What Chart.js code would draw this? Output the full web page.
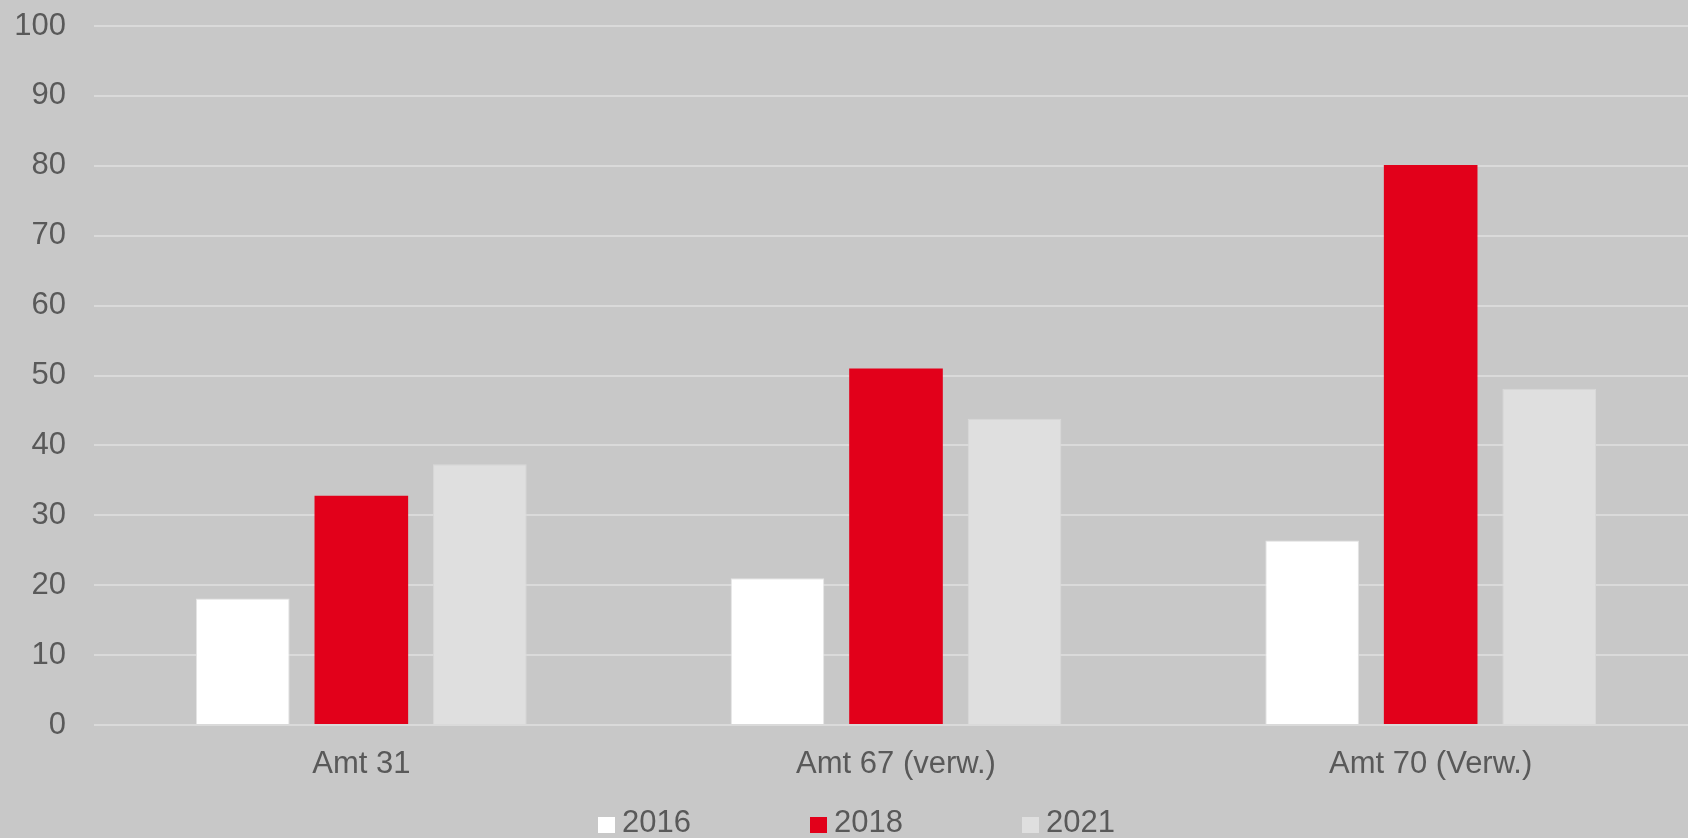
<!DOCTYPE html>
<html>
<head>
<meta charset="utf-8">
<script src="https://cdn.jsdelivr.net/npm/chart.js@4"></script>
<style>
  html, body { margin: 0; padding: 0; background: #c8c8c8; overflow: hidden; }
  /* the plot runs on past the right edge of the picture, so the canvas is a bit wider than the window */
  #wrap { width: 1698px; height: 838px; position: relative; }
  #legend {
    position: absolute; left: 0; top: 804px; width: 1688px; height: 36px;
    font-family: 'Liberation Sans', Arial, sans-serif; font-size: 31px; color: #595959;
  }
  .item { position: absolute; top: 0; line-height: 36px; white-space: nowrap; }
  .box { display: inline-block; width: 17px; height: 16px; margin-right: 7px; vertical-align: -1px; }
</style>
</head>
<body>
<div id="wrap">
  <canvas id="chart"></canvas>
  <div id="legend"></div>
</div>
<script>
const categories = ["Amt 31", "Amt 67 (verw.)", "Amt 70 (Verw.)"];
const seriesNames = ["2016", "2018", "2021"];
const values2016 = [18.1, 21.0, 26.4];
const values2018 = [32.8, 51.0, 80.1];
const values2021 = [37.3, 43.8, 48.1];

const textColor = "#595959";
const font = { family: "'Liberation Sans', Arial, sans-serif", size: 31 };
const colors = ["#ffffff", "#e2001a", "#dfdfdf"];

const chart = new Chart(document.getElementById("chart"), {
  type: "bar",
  data: {
    labels: categories,
    datasets: [
      { label: seriesNames[0], data: values2016, backgroundColor: colors[0], borderColor: "#e4e4e4", borderWidth: 1 },
      { label: seriesNames[1], data: values2018, backgroundColor: colors[1], borderWidth: 0 },
      { label: seriesNames[2], data: values2021, backgroundColor: colors[2], borderColor: "#d8d8d8", borderWidth: 1 }
    ]
  },
  options: {
    responsive: true,
    maintainAspectRatio: false,
    animation: false,
    categoryPercentage: 0.665,
    barPercentage: 0.79,
    layout: { padding: { left: 0, right: 0, top: 26, bottom: 0 } },
    plugins: {
      legend: { display: false },
      tooltip: { enabled: false }
    },
    scales: {
      x: {
        grid: { display: false, drawTicks: false },
        border: { display: false },
        ticks: { color: textColor, font: font, padding: 21 },
        afterFit: s => {
          s.height = 113;
          s.paddingLeft = 0;
          s.paddingRight = 0;
        }
      },
      y: {
        min: 0,
        max: 100,
        ticks: { stepSize: 10, color: textColor, font: font, padding: 28 },
        grid: { color: "#dadada", lineWidth: 2, drawTicks: false },
        border: { display: false },
        afterFit: s => {
          s.width = 94;
          s.paddingTop = 0;
          s.paddingBottom = 0;
        }
      }
    }
  }
});

// legend as plain text below the chart
const legendX = [598, 810, 1022];
const legendEl = document.getElementById("legend");
chart.data.datasets.forEach((ds, i) => {
  const item = document.createElement("div");
  item.className = "item";
  item.style.left = legendX[i] + "px";
  item.innerHTML = '<span class="box" style="background:' + colors[i] + '"></span>' + ds.label;
  legendEl.appendChild(item);
});
</script>
</body>
</html>
